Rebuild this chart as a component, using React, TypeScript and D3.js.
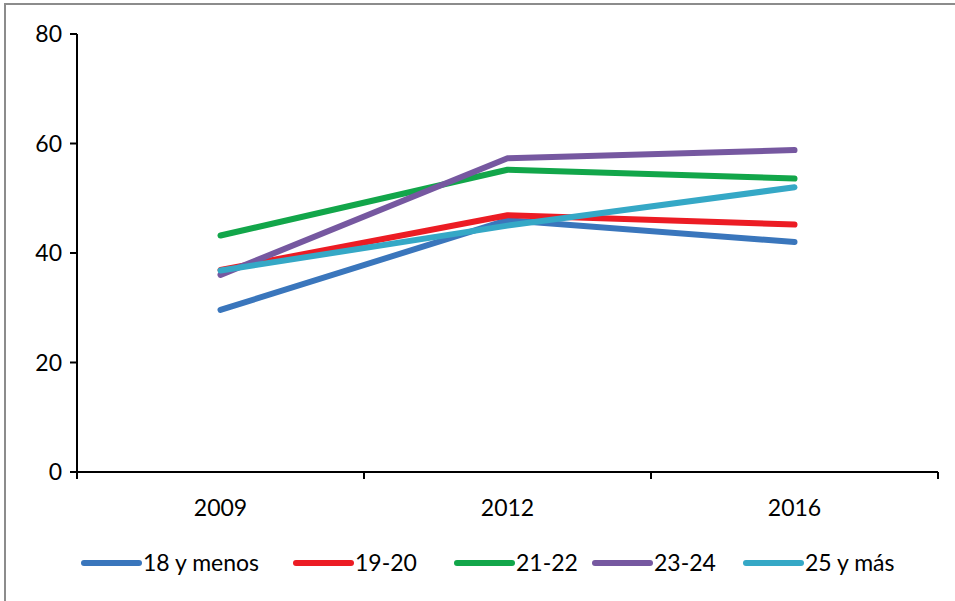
import React from "react";
import * as d3 from "d3";

const years = ["2009", "2012", "2016"];
const seriesNames = ["18 y menos", "19-20", "21-22", "23-24", "25 y más"];
const s18 = [29.6, 46.0, 42.0];
const s1920 = [36.9, 46.9, 45.2];
const s2122 = [43.2, 55.2, 53.6];
const s2324 = [36.0, 57.3, 58.8];
const s25 = [36.8, 45.0, 52.0];
const yTicks = [0, 20, 40, 60, 80];
const colors = ["#3a76bc", "#ec1c24", "#12a64a", "#7658a0", "#35a8c6"];

const allSeries = [s18, s1920, s2122, s2324, s25];

export default function App() {
  const W = 955, H = 601;
  const left = 77, right = 938, top = 34, bottom = 472;
  const x = d3.scaleBand<string>().domain(years).range([left, right]);
  const y = d3.scaleLinear().domain([0, 80]).range([bottom, top]);
  const line = d3
    .line<number>()
    .x((_, i) => (x(years[i]) as number) + x.bandwidth() / 2)
    .y((d) => y(d));
  const font = "Lato, 'Open Sans', sans-serif";
  const fs = 23;
  const legendX = [84, 296, 457, 595, 746];
  const legendY = 563;
  const boundaries = [...years.map((yr) => x(yr) as number), right];
  return (
    <svg width={W} height={H} style={{ position: "absolute", left: 0, top: 0 }}>
      <rect x={0} y={0} width={W} height={H} fill="#fff" />
      <path d={`M5,${H + 5} V4 H${W + 5}`} fill="none" stroke="#8c8c8c" strokeWidth={2} />
      {/* y axis */}
      <line x1={left} x2={left} y1={top} y2={bottom + 6} stroke="#000" strokeWidth={2} />
      {yTicks.map((t) => (
        <g key={t}>
          <line x1={left - 7} x2={left} y1={y(t)} y2={y(t)} stroke="#000" strokeWidth={2} />
          <text x={left - 15} y={y(t)} dy="0.36em" textAnchor="end" fontFamily={font} fontSize={fs} fill="#000">
            {t}
          </text>
        </g>
      ))}
      {/* x axis */}
      <line x1={left - 7} x2={right} y1={bottom} y2={bottom} stroke="#000" strokeWidth={2} />
      {boundaries.map((b, i) => (
        <line key={i} x1={b} x2={b} y1={bottom} y2={bottom + 7} stroke="#000" strokeWidth={2} />
      ))}
      {years.map((yr) => (
        <text key={yr} x={(x(yr) as number) + x.bandwidth() / 2} y={516} textAnchor="middle" fontFamily={font} fontSize={fs} fill="#000">
          {yr}
        </text>
      ))}
      {/* lines */}
      {allSeries.map((s, i) => (
        <path key={i} d={line(s) || ""} fill="none" stroke={colors[i]} strokeWidth={6} strokeLinecap="round" strokeLinejoin="round" />
      ))}
      {/* legend */}
      {seriesNames.map((n, i) => (
        <g key={n}>
          <line x1={legendX[i]} x2={legendX[i] + 55} y1={legendY} y2={legendY} stroke={colors[i]} strokeWidth={6} strokeLinecap="round" />
          <text x={legendX[i] + 59} y={legendY} dy="0.36em" fontFamily={font} fontSize={fs} fill="#000">
            {n}
          </text>
        </g>
      ))}
    </svg>
  );
}
